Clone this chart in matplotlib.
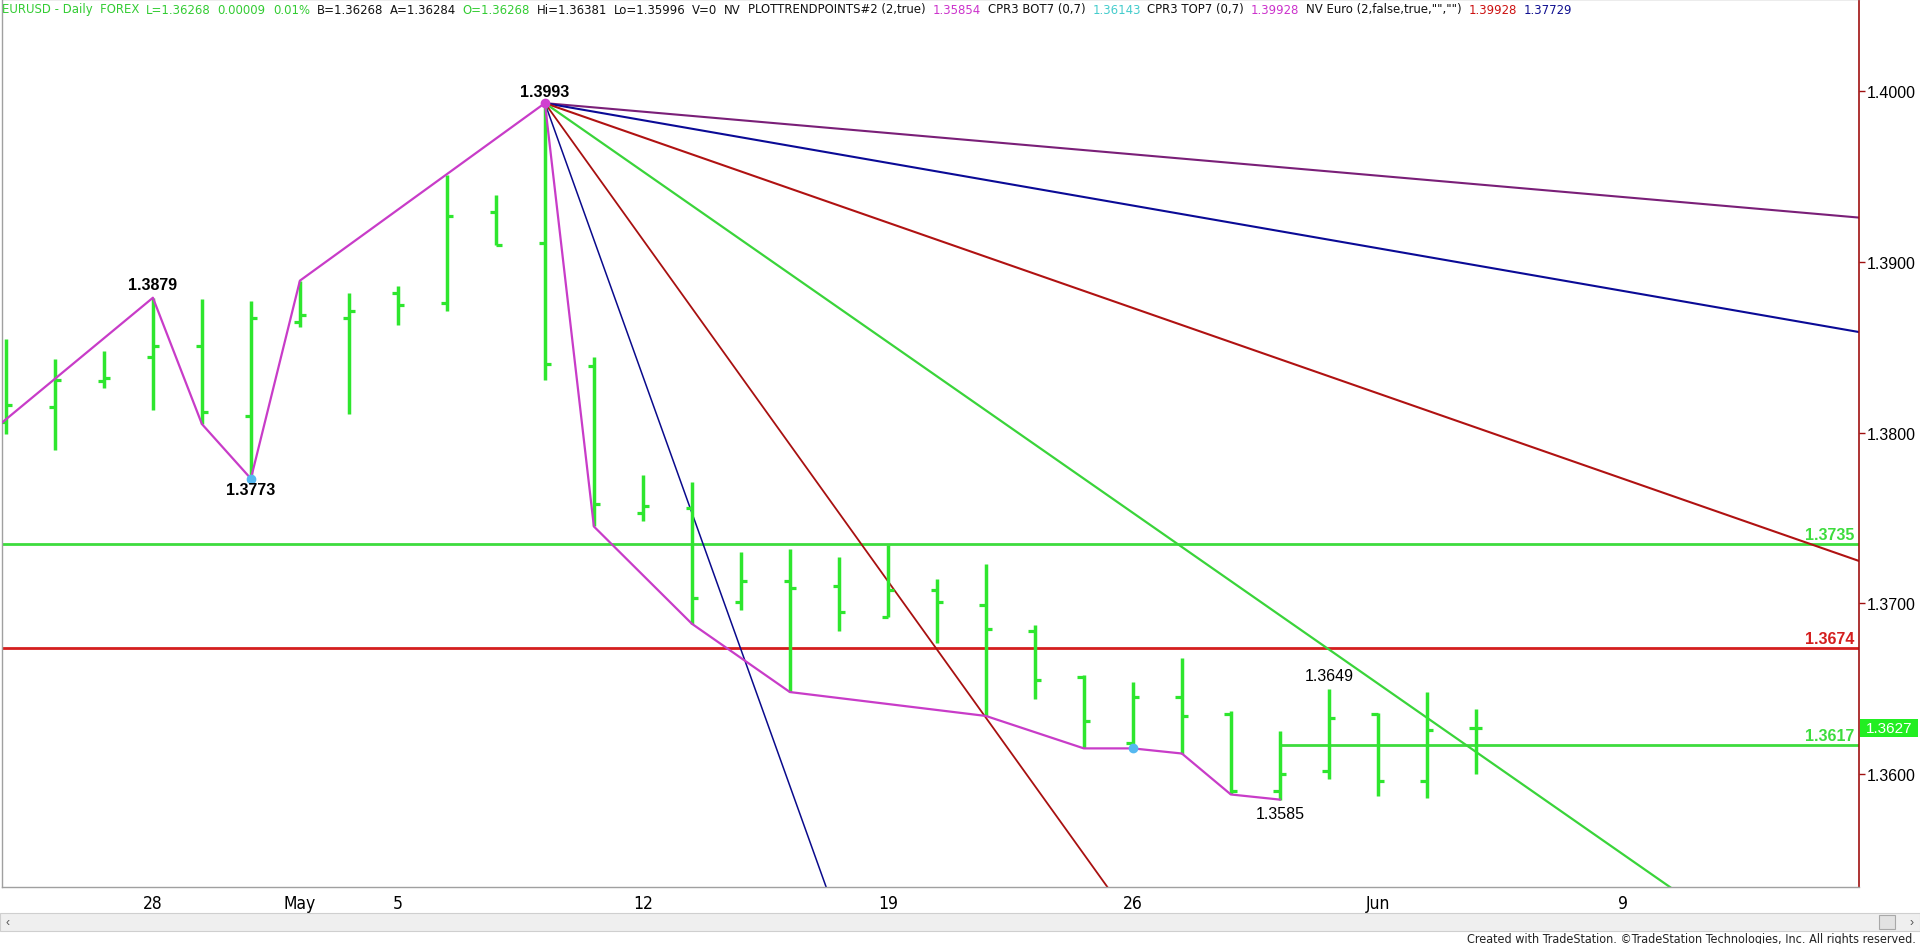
import matplotlib

matplotlib.use("Agg")
import matplotlib.pyplot as plt  # noqa: E402
import matplotlib.transforms as mtransforms  # noqa: E402
from matplotlib import font_manager  # noqa: E402
from matplotlib.font_manager import FontProperties  # noqa: E402
from matplotlib.patches import Rectangle  # noqa: E402

# EURUSD daily, trading-day index 0 = Wed 23 Apr 2014
days = list(range(31))
opens = [1.3806, 1.3815, 1.3830, 1.3844, 1.3851, 1.3810, 1.3865, 1.3867, 1.3882, 1.3876,
         1.3929, 1.3911, 1.3839, 1.3753, 1.3756, 1.3701, 1.3713, 1.3710, 1.3692, 1.3708,
         1.3699, 1.3684, 1.3657, 1.3618, 1.3645, 1.3635, 1.3590, 1.3602, 1.3635, 1.3596,
         1.3627]
highs = [1.3855, 1.3843, 1.3848, 1.3879, 1.3878, 1.3877, 1.3889, 1.3882, 1.3886, 1.3951,
         1.3939, 1.3993, 1.3844, 1.3775, 1.3771, 1.3730, 1.3732, 1.3727, 1.3734, 1.3714,
         1.3723, 1.3687, 1.3658, 1.3654, 1.3668, 1.3637, 1.3625, 1.3650, 1.3636, 1.3648,
         1.3638]
lows = [1.3799, 1.3790, 1.3826, 1.3813, 1.3805, 1.3773, 1.3862, 1.3811, 1.3863, 1.3871,
        1.3910, 1.3831, 1.3745, 1.3748, 1.3688, 1.3696, 1.3648, 1.3684, 1.3692, 1.3677,
        1.3634, 1.3644, 1.3615, 1.3615, 1.3612, 1.3588, 1.3585, 1.3597, 1.3587, 1.3586,
        1.3600]
closes = [1.3816, 1.3831, 1.3832, 1.3851, 1.3812, 1.3867, 1.3869, 1.3871, 1.3875, 1.3927,
          1.3910, 1.3840, 1.3758, 1.3757, 1.3703, 1.3713, 1.3709, 1.3695, 1.3708, 1.3701,
          1.3685, 1.3655, 1.3631, 1.3645, 1.3634, 1.3590, 1.3600, 1.3633, 1.3596, 1.3626,
          1.3627]

# swing-point zigzag (PLOTTRENDPOINTS)
zig_days = [-1, 3, 4, 5, 6, 11, 12, 14, 16, 20, 22, 23, 24, 25, 26]
zig_prices = [1.3784, 1.3879, 1.3805, 1.3773, 1.3889, 1.3993, 1.3745, 1.3688, 1.3648,
              1.3634, 1.3615, 1.3615, 1.3612, 1.3588, 1.3585]
pivot_lows = [(5, 1.3773), (23, 1.3615)]

# Gann-style fan from the 1.3993 top: price change per bar
fan_anchor = (11, 1.3993)
fan_slopes = [-0.00025, -0.0005, -0.001, -0.002, -0.004, -0.008]
fan_colors = ["#7a1f78", "#0a0a96", "#b01212", "#3ad43a", "#a81010", "#0a0a8c"]
fan_widths = [1.5, 1.5, 1.5, 1.6, 1.3, 1.1]

levels = [1.3735, 1.3674, 1.3617]
level_colors = ["#3ddc3d", "#d41e1e", "#3ddc3d"]
level_start = [None, None, 26]

swing_labels = [(3, 1.3879, "1.3879", 13, "bold"), (5, 1.3773, "1.3773", -11, "bold"),
                (11, 1.3993, "1.3993", 12, "bold"), (27, 1.3650, "1.3649", 13, "normal"),
                (26, 1.3585, "1.3585", -14, "normal")]

date_pos = [3, 6, 8, 13, 18, 23, 28, 33]
date_labels = ["28", "May", "5", "12", "19", "26", "Jun", "9"]
price_ticks = [1.36, 1.37, 1.38, 1.39, 1.40]
last_price = 1.3627

hdr_green, blk = "#33cc33", "#111111"
header = [
    ("EURUSD - Daily  FOREX", hdr_green), ("L=1.36268", hdr_green),
    ("0.00009", hdr_green), ("0.01%", hdr_green), ("B=1.36268", blk),
    ("A=1.36284", blk), ("O=1.36268", hdr_green), ("Hi=1.36381", blk),
    ("Lo=1.35996", blk), ("V=0", blk), ("NV", blk),
    ("PLOTTRENDPOINTS#2 (2,true)", blk), ("1.35854", "#cc33cc"),
    ("CPR3 BOT7 (0,7)", blk), ("1.36143", "#44cccc"),
    ("CPR3 TOP7 (0,7)", blk), ("1.39928", "#cc33cc"),
    ('NV Euro (2,false,true,"","")', blk), ("1.39928", "#cc1111"),
    ("1.37729", "#101090"),
]

G = "#2ee62e"
W, H = 1920, 945


def pick(fams):
    for f in fams:
        try:
            font_manager.findfont(f, fallback_to_default=False)
            return f
        except Exception:
            continue
    return "DejaVu Sans"


def narrow_props():
    """A condensed face for the TradeStation-style header and date scale."""
    for fam in ["Liberation Sans Narrow", "Arial Narrow"]:
        try:
            font_manager.findfont(fam, fallback_to_default=False)
            return FontProperties(family=fam)
        except Exception:
            pass
    fp = FontProperties(family="DejaVu Sans", stretch="condensed")
    if "Condensed" in font_manager.findfont(fp):
        return fp
    return FontProperties(family=pick(["Liberation Sans"]))


SANS = pick(["Liberation Sans", "Arial"])
plt.rcParams.update({"font.family": SANS})
NARROW = narrow_props()

fig = plt.figure(figsize=(W / 100, H / 100), dpi=100)
ax = fig.add_axes([2 / W, 57 / H, 1857 / W, 888 / H])
ax.set_xlim(-0.08, 37.82)
ax.set_ylim(1.35338, 1.40540)

# levels
for lv, c, st in zip(levels, level_colors, level_start):
    if st is None:
        ax.axhline(lv, color=c, lw=2.0, zorder=1)
    else:
        ax.hlines(lv, st, 40, color=c, lw=2.0, zorder=1)
    ax.annotate(f"{lv:.4f}", xy=(37.72, lv), xytext=(0, 2), textcoords="offset pixels",
                ha="right", va="bottom", color=c, fontsize=11.5, fontweight="bold")

# fan lines
d0, p0 = fan_anchor
for s, c, w in zip(fan_slopes, fan_colors, fan_widths):
    ax.plot([d0, 40], [p0, p0 + s * (40 - d0)], color=c, lw=w, zorder=2)

# OHLC bars
tw = 0.13
ax.vlines(days, lows, highs, color=G, lw=2.5, zorder=3)
ax.hlines(opens, [d - tw for d in days], days, color=G, lw=2.3, zorder=3)
ax.hlines(closes, days, [d + tw for d in days], color=G, lw=2.3, zorder=3)

# zigzag
ax.plot(zig_days, zig_prices, color="#c83cc8", lw=1.6, zorder=4)
ax.plot([p[0] for p in pivot_lows], [p[1] for p in pivot_lows], "o", color="#55b8f0",
        ms=6, zorder=5)
ax.plot([fan_anchor[0]], [fan_anchor[1]], "o", color="#d040d0", ms=6, zorder=5)

for d, p, t, off, wt in swing_labels:
    ax.annotate(t, xy=(d, p), xytext=(0, off), textcoords="offset pixels", ha="center",
                va="center", fontsize=11.5, fontweight=wt, color="black", zorder=6)

# axes styling
ax.yaxis.tick_right()
ax.set_yticks(price_ticks)
ax.set_yticklabels([f"{t:.4f}" for t in price_ticks])
ax.tick_params(axis="y", colors="#a01010", labelcolor="black", length=4, width=1,
               labelsize=11.5, pad=1.5)
ax.set_xticks(date_pos)
ax.set_xticklabels(date_labels)
for lab in ax.get_xticklabels():
    lab.set_fontproperties(NARROW)
    lab.set_fontsize(12.5)
ax.tick_params(axis="x", length=0, pad=5)
for side in ("left", "top", "bottom"):
    ax.spines[side].set_color("#a0a0a0")
    ax.spines[side].set_linewidth(1)
ax.spines["right"].set_color("#a01010")
ax.spines["right"].set_linewidth(1.2)

# last-price box on the price scale
tr = mtransforms.blended_transform_factory(ax.transAxes, ax.transData)
bw, bh = 58 / 1857, 18 / 17070
ax.add_patch(Rectangle((1.0007, last_price - bh / 2), bw, bh, transform=tr,
                       facecolor="#22ee22", edgecolor="none", clip_on=False, zorder=7))
ax.text(1.0007 + bw / 2, last_price, f"{last_price:.4f}", transform=tr, ha="center",
        va="center", color="white", fontsize=11, clip_on=False, zorder=8)

# header strip: lay segments out left to right, scaled to span ~1570 px
renderer = fig.canvas.get_renderer()
gap, target, fs = 7, 1570, 10
probe = [fig.text(0, 0, t, fontproperties=NARROW, fontsize=fs) for t, _ in header]
widths = [p.get_window_extent(renderer).width for p in probe]
for p in probe:
    p.remove()
fs = min(fs * (target - gap * (len(header) - 1)) / sum(widths), 12.5)
x = 2.0
for (t, c), w in zip(header, widths):
    fig.text(x / W, 1 - 10 / H, t, ha="left", va="center", color=c,
             fontproperties=NARROW, fontsize=fs)
    x += w * fs / 10 + gap

# scrollbar + footer
fig.patches.append(Rectangle((0, 1 - 932 / H), 1, 18 / H, transform=fig.transFigure,
                             facecolor="#efefef", edgecolor="#cfcfcf", lw=0.8))
fig.patches.append(Rectangle((1879 / W, 1 - 930 / H), 16 / W, 14 / H,
                             transform=fig.transFigure, facecolor="#e2e2e2",
                             edgecolor="#a8a8a8", lw=0.8))
fig.text(6 / W, 1 - 923 / H, "\u2039", fontsize=9, va="center", color="#555")
fig.text(1910 / W, 1 - 923 / H, "\u203a", fontsize=9, va="center", color="#555")
fig.text(1916 / W, 1 - 940 / H,
         "Created with TradeStation. \u00a9TradeStation Technologies, Inc. All rights reserved.",
         ha="right", va="center", fontproperties=NARROW, fontsize=9, color="#222")

fig.savefig("out.png", dpi=100, facecolor="white")
